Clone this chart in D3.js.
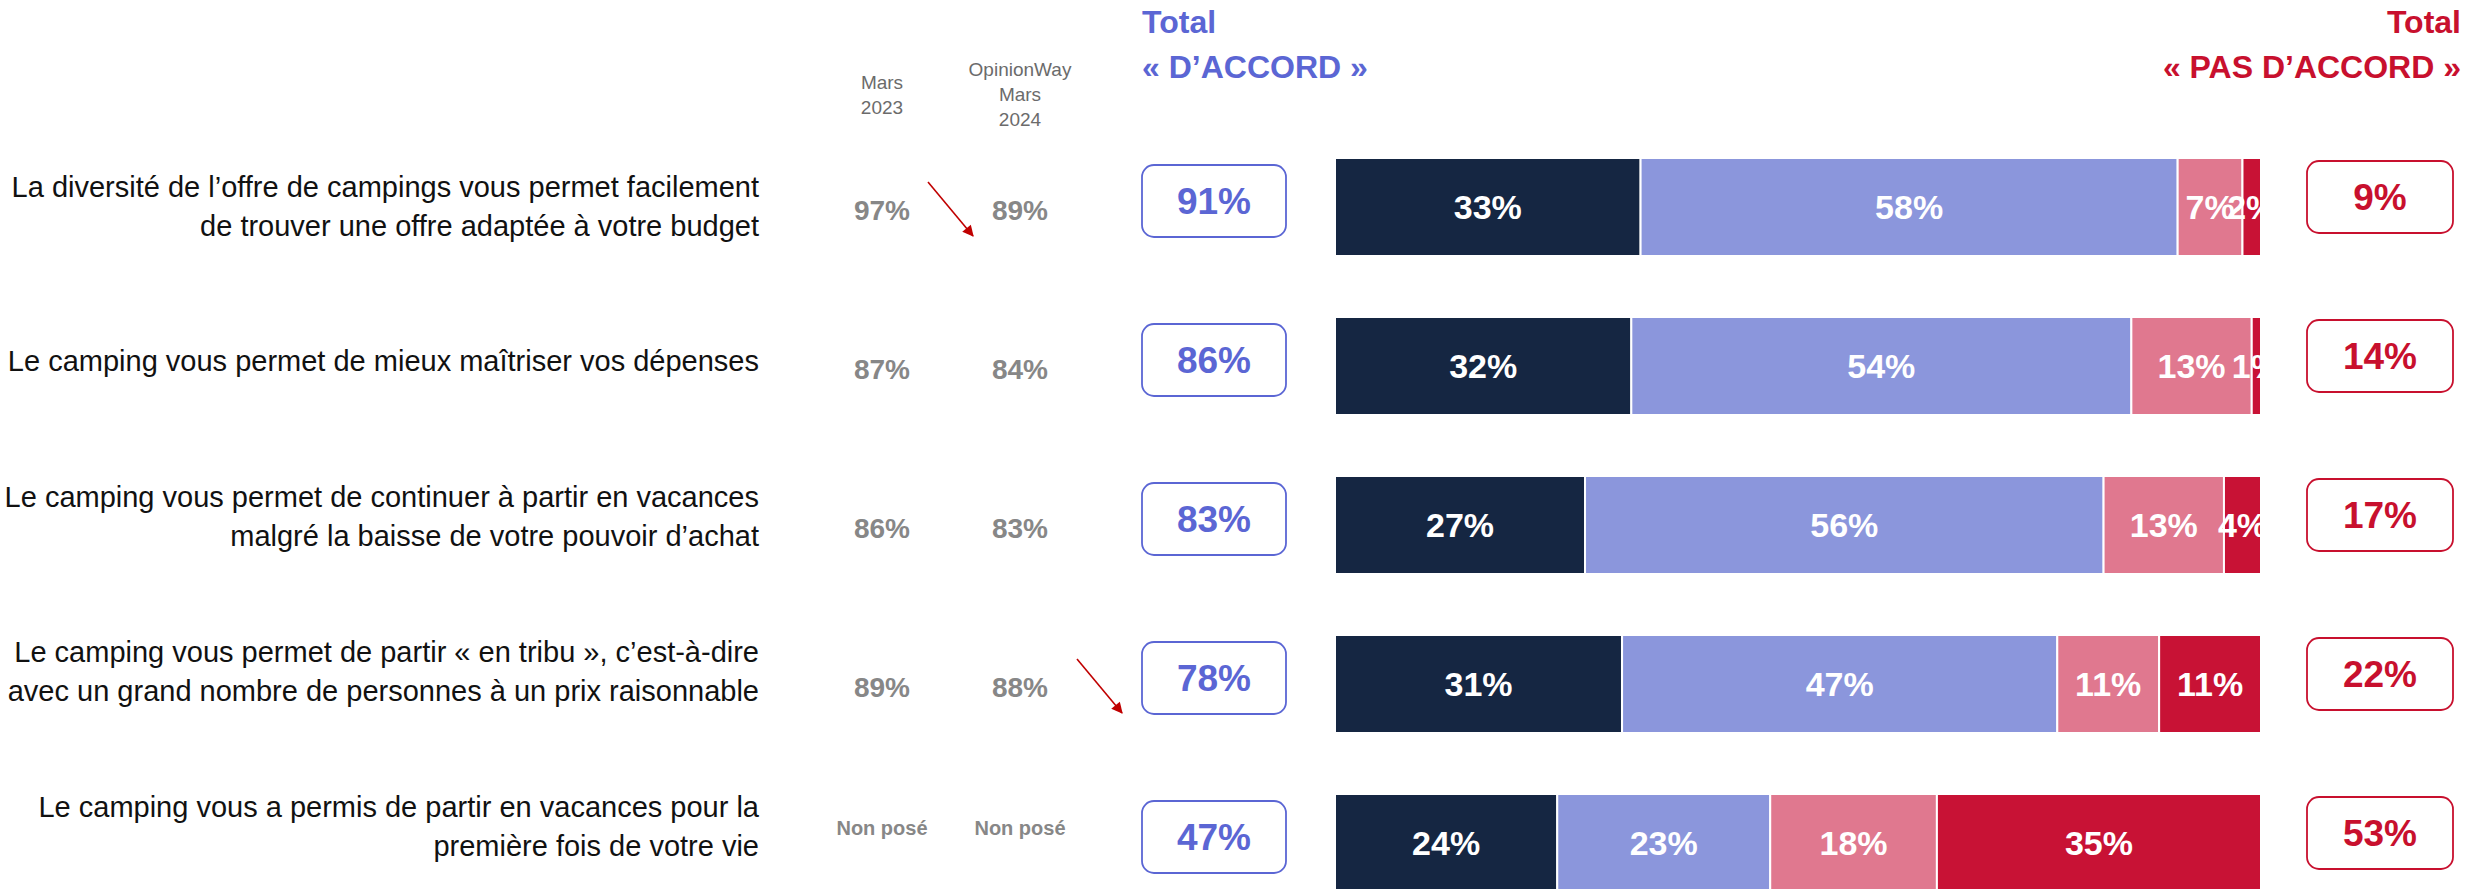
<!DOCTYPE html>
<html>
<head>
<meta charset="utf-8">
<script src="https://cdn.jsdelivr.net/npm/d3@7"></script>
<style>
  body { margin: 0; background: #fff; }
  svg { display: block; font-family: "Liberation Sans", Arial, sans-serif; }
</style>
</head>
<body>
<svg id="svg" width="2479" height="889"></svg>
<script>
// données
const questions = [
  ["La diversité de l’offre de campings vous permet facilement", "de trouver une offre adaptée à votre budget"],
  ["Le camping vous permet de mieux maîtriser vos dépenses"],
  ["Le camping vous permet de continuer à partir en vacances", "malgré la baisse de votre pouvoir d’achat"],
  ["Le camping vous permet de partir « en tribu », c’est-à-dire", "avec un grand nombre de personnes à un prix raisonnable"],
  ["Le camping vous a permis de partir en vacances pour la", "première fois de votre vie"]
];
const series = ["Tout à fait d'accord", "Plutôt d'accord", "Plutôt pas d'accord", "Pas du tout d'accord"];
const toutAFait = [33, 32, 27, 31, 24];
const plutot = [58, 54, 56, 47, 23];
const plutotPas = [7, 13, 13, 11, 18];
const pasDuTout = [2, 1, 4, 11, 35];
const totalAccord = [91, 86, 83, 78, 47];
const totalPasAccord = [9, 14, 17, 22, 53];
const mars2023 = [97, 87, 86, 89, null];
const mars2024 = [89, 84, 83, 88, null];
const colHeaders = [["Mars", "2023"], ["OpinionWay", "Mars", "2024"]];
// flèches rouges (rangée, colonne visée)
const arrows = [{ row: 0, target: "2024" }, { row: 3, target: "accord" }];

const colors = ["#152642", "#8b96dc", "#e0788f", "#c81235"];
const blue = "#5b66d4";
const red = "#c8102e";
const gray = "#878787";

const svg = d3.select("#svg");

// échelles
const x = d3.scaleLinear().domain([0, 100]).range([1335, 2261]);
const y = d3.scalePoint().domain(d3.range(questions.length)).range([207, 843]);
const yLabel = d3.scalePoint().domain(d3.range(questions.length)).range([206, 826]);
const col = d3.scalePoint().domain(["2023", "2024"]).range([882, 1020]);
const barH = 98;
const boxAccord = { cx: 1214, w: 144, h: 72, dy: -6 };
const boxPas = { cx: 2380, w: 146, h: 72, dy: -10 };

// empilement
const rows = questions.map((q, i) => {
  const vals = [toutAFait[i], plutot[i], plutotPas[i], pasDuTout[i]];
  let acc = 0;
  return vals.map((v, k) => {
    const seg = { i, k, v, x0: acc, x1: acc + v };
    acc += v;
    return seg;
  });
});

// clip de la zone des barres
svg.append("defs").append("clipPath").attr("id", "barClip")
  .append("rect")
  .attr("x", x(0)).attr("y", 0)
  .attr("width", x(100) - x(0)).attr("height", 889);

svg.select("defs").append("marker")
  .attr("id", "arrowHead")
  .attr("viewBox", "0 0 10 10")
  .attr("refX", 9).attr("refY", 5)
  .attr("markerWidth", 9).attr("markerHeight", 7)
  .attr("markerUnits", "strokeWidth")
  .attr("orient", "auto")
  .append("path").attr("d", "M0,0 L10,5 L0,10 z").attr("fill", "#c00000");

// en-têtes
const hdr = svg.append("g").attr("font-weight", "bold").attr("font-size", 32);
hdr.append("text").attr("x", boxAccord.cx - boxAccord.w / 2).attr("y", 33).attr("fill", blue).text("Total");
hdr.append("text").attr("x", boxAccord.cx - boxAccord.w / 2).attr("y", 78).attr("fill", blue).text("« D’ACCORD »");
hdr.append("text").attr("x", 2461).attr("y", 33).attr("fill", red).attr("text-anchor", "end").text("Total");
hdr.append("text").attr("x", 2461).attr("y", 78).attr("fill", red).attr("text-anchor", "end").text("« PAS D’ACCORD »");

// en-têtes des colonnes
const colKeys = ["2023", "2024"];
colHeaders.forEach((lines, c) => {
  const t = svg.append("text")
    .attr("x", col(colKeys[c]))
    .attr("text-anchor", "middle")
    .attr("font-size", 19)
    .attr("fill", "#6b6b6b");
  const startY = lines.length === 2 ? 89 : 76;
  lines.forEach((l, j) => {
    t.append("tspan").attr("x", col(colKeys[c])).attr("y", startY + j * 25).text(l);
  });
});

// libellés des questions
svg.append("g").selectAll("text")
  .data(questions)
  .join("text")
  .attr("text-anchor", "end")
  .attr("font-size", 29)
  .attr("fill", "#111")
  .each(function (lines, i) {
    const lh = 39;
    const first = yLabel(i) + 10 - (lines.length - 1) * lh / 2;
    d3.select(this).selectAll("tspan")
      .data(lines)
      .join("tspan")
      .attr("x", 759)
      .attr("y", (d, j) => first + j * lh)
      .text(d => d);
  });

// valeurs 2023 / 2024
[[mars2023, "2023"], [mars2024, "2024"]].forEach(([vals, key]) => {
  svg.append("g").selectAll("text")
    .data(vals)
    .join("text")
    .attr("x", col(key))
    .attr("y", (d, i) => (d === null ? y(i) - 15 : y(i) + 3))
    .attr("dy", "0.35em")
    .attr("text-anchor", "middle")
    .attr("font-weight", "bold")
    .attr("font-size", d => (d === null ? 20 : 28))
    .attr("fill", gray)
    .text(d => (d === null ? "Non posé" : d + "%"));
});

// barres empilées
const bars = svg.append("g").attr("clip-path", "url(#barClip)");
const segs = bars.selectAll("g.row")
  .data(rows)
  .join("g")
  .attr("class", "row")
  .selectAll("g")
  .data(d => d)
  .join("g");

segs.append("rect")
  .attr("x", d => x(d.x0))
  .attr("y", d => y(d.i) - barH / 2)
  .attr("width", d => x(d.x1) - x(d.x0))
  .attr("height", barH)
  .attr("fill", d => colors[d.k])
  .attr("stroke", "#fff")
  .attr("stroke-width", 2);

segs.append("text")
  .attr("x", d => (x(d.x0) + x(d.x1)) / 2)
  .attr("y", d => y(d.i))
  .attr("dy", "0.35em")
  .attr("text-anchor", "middle")
  .attr("font-weight", "bold")
  .attr("font-size", 34)
  .attr("fill", "#fff")
  .text(d => d.v + "%");

// encadrés des totaux
function drawBoxes(vals, box, color) {
  const g = svg.append("g").selectAll("g")
    .data(vals)
    .join("g")
    .attr("transform", (d, i) => `translate(${box.cx},${y(i) + box.dy})`);
  g.append("rect")
    .attr("x", -box.w / 2).attr("y", -box.h / 2)
    .attr("width", box.w).attr("height", box.h)
    .attr("rx", 12)
    .attr("fill", "#fff")
    .attr("stroke", color)
    .attr("stroke-width", 1.8);
  g.append("text")
    .attr("text-anchor", "middle")
    .attr("dy", "0.35em")
    .attr("font-weight", "bold")
    .attr("font-size", 37)
    .attr("fill", color)
    .text(d => d + "%");
}
drawBoxes(totalAccord, boxAccord, blue);
drawBoxes(totalPasAccord, boxPas, red);

// flèches
svg.append("g").selectAll("line")
  .data(arrows)
  .join("line")
  .each(function (a) {
    const tipX = a.target === "accord" ? boxAccord.cx - boxAccord.w / 2 - 20 : col(a.target) - 47;
    const tipY = y(a.row) + 29;
    d3.select(this)
      .attr("x1", tipX - 45).attr("y1", tipY - 54)
      .attr("x2", tipX).attr("y2", tipY);
  })
  .attr("stroke", "#c00000")
  .attr("stroke-width", 1.6)
  .attr("marker-end", "url(#arrowHead)");
</script>
</body>
</html>
